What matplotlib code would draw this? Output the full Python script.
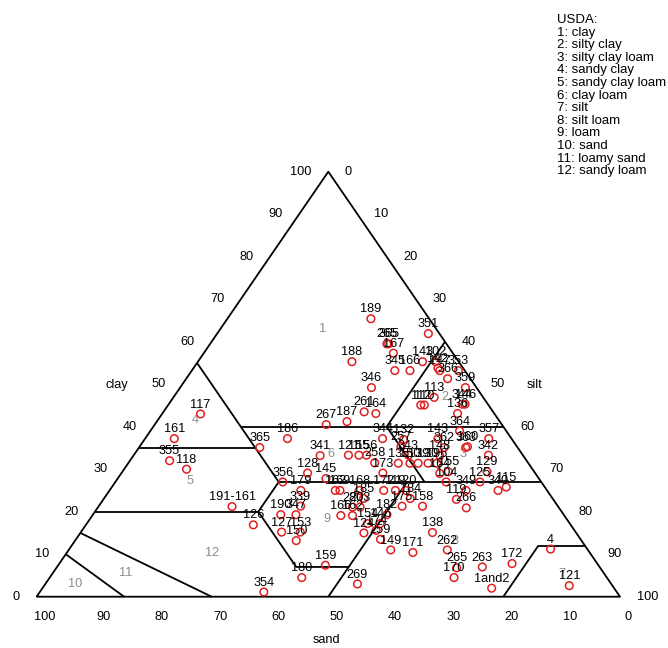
import matplotlib
matplotlib.use("Agg")
import matplotlib.pyplot as plt

plt.rcParams['font.family'] = ['Liberation Sans', 'DejaVu Sans']

labels = ["189", "351", "265", "365", "167", "188", "345", "166", "143", "102",
          "142", "147", "353", "366", "359", "113", "112", "110", "344", "146",
          "136", "346", "261", "164", "187", "267", "364", "186", "365", "344",
          "132", "257", "143", "362", "363", "357", "342", "343", "148", "160",
          "341", "121", "155", "156", "258", "173", "135", "150", "139", "130",
          "196", "155", "129", "125", "349", "104", "164", "128", "145", "356",
          "179", "162", "169", "168", "172", "119", "120", "185", "184", "175",
          "158", "119", "266", "340", "115", "339", "190", "347", "280", "203",
          "166", "162", "182", "154", "146", "124", "174", "259", "127", "153",
          "150", "126", "191-161", "138", "149", "171", "262", "265", "170", "263",
          "172", "4", "1and2", "121", "159", "180", "269", "354", "117", "161",
          "355", "118"]
clay = [65.4, 61.9, 59.5, 59.5, 57.3, 55.3, 53.2, 53.2, 55.3, 55.3,
        53.8, 53.2, 53.2, 51.3, 49.2, 46.9, 45.1, 45.1, 45.3, 45.3,
        43.1, 49.2, 43.5, 43.1, 41.2, 40.5, 39.0, 37.2, 35.1, 37.2,
        37.0, 35.3, 37.2, 35.1, 35.1, 37.2, 33.3, 33.3, 33.2, 35.3,
        33.2, 33.3, 33.3, 33.3, 31.5, 29.1, 31.4, 31.4, 31.4, 31.4,
        31.4, 29.4, 29.4, 27.0, 25.0, 27.0, 29.0, 29.1, 27.8, 27.0,
        25.0, 25.0, 25.0, 25.0, 25.0, 25.0, 25.0, 23.1, 23.1, 21.3,
        21.3, 22.9, 20.9, 25.0, 25.8, 21.3, 19.3, 19.3, 21.1, 21.1,
        19.1, 19.1, 19.3, 17.2, 17.2, 15.0, 15.6, 13.5, 15.2, 15.2,
        13.2, 16.9, 21.2, 15.1, 11.0, 10.4, 11.0, 6.8, 4.5, 7.0,
        7.8, 11.2, 2.0, 2.6, 7.4, 4.5, 3.0, 1.1, 43.0, 37.2,
        32.0, 30.0]
silt = [24.6, 36.2, 30.3, 30.6, 32.5, 26.4, 34.8, 37.4, 38.5, 40.7,
        41.9, 42.5, 45.7, 44.8, 48.9, 44.7, 43.3, 43.9, 50.3, 50.8,
        50.6, 32.8, 34.4, 36.6, 32.6, 29.4, 53.0, 24.4, 20.7, 40.7,
        44.4, 44.8, 50.2, 52.3, 56.0, 58.9, 60.8, 47.1, 52.5, 56.2,
        32.0, 36.8, 38.6, 39.9, 42.2, 44.8, 46.3, 48.3, 49.7, 51.4,
        52.9, 55.9, 62.5, 62.5, 61.1, 56.7, 54.6, 31.9, 35.7, 28.7,
        32.8, 38.7, 39.5, 42.8, 47.0, 49.0, 50.8, 44.5, 52.5, 52.0,
        55.5, 60.5, 63.2, 66.6, 67.6, 34.6, 32.2, 34.8, 43.6, 44.9,
        42.6, 44.6, 50.4, 48.1, 50.3, 48.6, 50.4, 52.2, 34.4, 37.6,
        37.9, 28.7, 22.9, 60.3, 55.2, 59.3, 64.9, 68.6, 69.3, 72.9,
        77.6, 82.5, 77.0, 90.0, 45.8, 43.2, 53.5, 38.4, 6.6, 5.0,
        6.8, 10.7]
sand = [round(100 - c - s, 1) for c, s in zip(clay, silt)]

tick_vals = [0, 10, 20, 30, 40, 50, 60, 70, 80, 90, 100]

zone_names = ["1", "2", "3", "4", "5", "6", "7", "8", "9", "10", "11", "12"]
zone_clay = [63.0, 46.9, 33.5, 41.5, 27.2, 33.6, 5.4, 13.2, 18.3, 3.1, 5.6, 10.2]
zone_silt = [17.5, 46.5, 56.3, 6.5, 12.7, 33.7, 87.4, 65.1, 40.7, 5.1, 12.5, 25.0]

legend_lines = ["USDA:", "1: clay", "2: silty clay", "3: silty clay loam", "4: sandy clay",
                "5: sandy clay loam", "6: clay loam", "7: silt", "8: silt loam", "9: loam",
                "10: sand", "11: loamy sand", "12: sandy loam"]

# USDA boundaries as (clay, silt) polylines
boundaries = [
    [(0, 0), (0, 100), (100, 0), (0, 0)],
    [(55, 0), (40, 15), (35, 20), (27, 28)],
    [(40, 15), (40, 60)],
    [(35, 0), (35, 20)],
    [(60, 40), (40, 40), (27, 53)],
    [(27, 28), (27, 73)],
    [(27, 28), (20, 28), (7, 41), (7, 50)],
    [(20, 0), (20, 28)],
    [(27, 50), (0, 50)],
    [(12, 80), (12, 88)],
    [(12, 80), (0, 80)],
    [(15, 0), (0, 30)],
    [(10, 0), (0, 15)],
]


def tern(c, s):
    return s + c / 2.0, c


W, H = 668, 648
fig = plt.figure(figsize=(W / 100, H / 100), dpi=100)
ax = fig.add_axes([36.6 / W, (H - 596.7) / H, 583.4 / W, 425 / H])
ax.set_xlim(0, 100)
ax.set_ylim(0, 100)
ax.axis('off')

for line in boundaries:
    xs, ys = zip(*[tern(c, s) for c, s in line])
    ax.plot(xs, ys, color='black', lw=1.3, solid_capstyle='butt', clip_on=False)

fs = 9.2
for v in tick_vals:
    x, y = tern(v, 0)
    ax.annotate(str(v), (x, y), xytext=(-12.0, 0), textcoords='offset points',
                ha='right', va='center', fontsize=fs, annotation_clip=False)
    x, y = tern(100 - v, v)
    ax.annotate(str(v), (x, y), xytext=(12.0, 0), textcoords='offset points',
                ha='left', va='center', fontsize=fs, annotation_clip=False)
    x, y = tern(0, 100 - v)
    ax.annotate(str(v), (x, y), xytext=(6.1, -14.4), textcoords='offset points',
                ha='center', va='center', fontsize=fs, annotation_clip=False)

ax.text(13.8, 49.8, "clay", ha='center', va='center', fontsize=fs)
ax.text(85.4, 49.8, "silt", ha='center', va='center', fontsize=fs)
ax.text(49.6, -10.2, "sand", ha='center', va='center', fontsize=fs, clip_on=False)

for name, c, s in zip(zone_names, zone_clay, zone_silt):
    x, y = tern(c, s)
    ax.text(x, y, name, ha='center', va='center', fontsize=fs, color='#8c8c8c')

xs = [s + c / 2.0 for c, s in zip(clay, silt)]
ys = list(clay)
ax.scatter(xs, ys, s=30, facecolors='none', edgecolors='#e02020', linewidths=1.1,
           clip_on=False, zorder=3)
for lab, x, y in zip(labels, xs, ys):
    ax.annotate(lab, (x, y), xytext=(0, 6.8), textcoords='offset points',
                ha='center', va='center', fontsize=fs, annotation_clip=False, zorder=4)

for i, line in enumerate(legend_lines):
    fig.text(557 / W, 1 - (20 + 12.6 * i) / H, line, ha='left', va='center', fontsize=9.5)

fig.savefig("out.png", dpi=100)
